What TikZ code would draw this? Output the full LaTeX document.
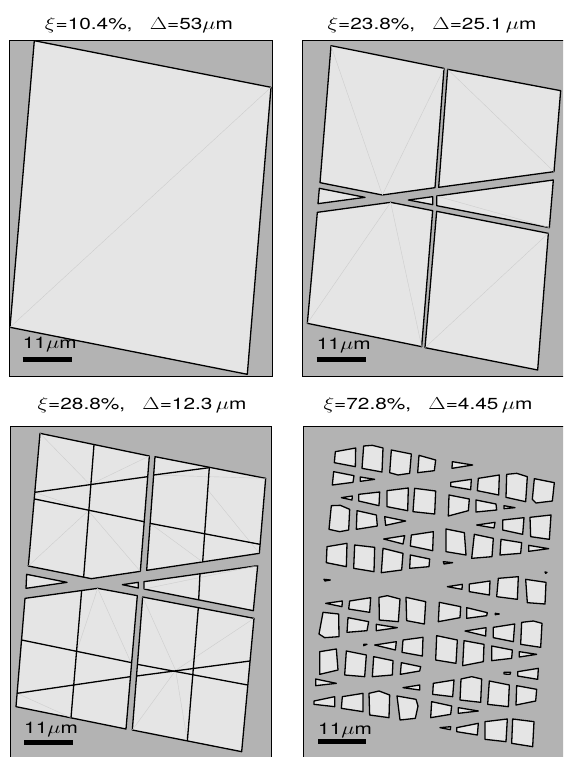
\documentclass[tikz,border=0pt]{standalone}
\usepackage{fontspec}
\setmainfont{TeX Gyre Heros}
\definecolor{fraggray}{RGB}{229,229,229}
\definecolor{bggray}{RGB}{179,179,179}
\definecolor{seamgray}{RGB}{205,205,205}
\newcommand{\widetxt}[1]{\scalebox{1.3}[1]{#1}}
\tikzset{
  panel/.style={draw=black, line width=0.8pt, fill=bggray},
  frag/.style={draw=black, line width=1.3pt, fill=fraggray, line join=round},
  crack/.style={draw=black, line width=1.3pt},
  seam/.style={draw=seamgray, line width=0.4pt},
  ttl/.style={inner sep=0pt, anchor=base, font=\fontsize{16}{19}\selectfont},
  barlbl/.style={ttl, anchor=base west},
  scalebar/.style={line width=5pt}
}

\begin{document}
\begin{tikzpicture}[x=1pt, y=-1pt]
  \useasboundingbox (0,0) rectangle (563,757);
  \clip (0,0) rectangle (563,757);

  % titles
  \node[ttl] (ttl1) at (139,30) {\widetxt{$\xi$=10.4\%,\ \ \ $\Delta$=53$\mu$m}};
  \node[ttl] (ttl2) at (432,30) {\widetxt{$\xi$=23.8\%,\ \ \ $\Delta$=25.1\,$\mu$m}};
  \node[ttl] (ttl3) at (142,409) {\widetxt{$\xi$=28.8\%,\ \ \ $\Delta$=12.3\,$\mu$m}};
  \node[ttl] (ttl4) at (428,409) {\widetxt{$\xi$=72.8\%,\ \ \ $\Delta$=4.45\,$\mu$m}};

  % panel 1
  \draw[panel] (9.5,40) rectangle (272.5,376);
  \draw[frag] (34.3,40.7) -- (271,87.3) -- (247.3,374.3) -- (10,327.3) -- cycle;
  \draw[seam] (10,327.3) -- (271,87.3);

  % panel 2
  \draw[panel] (302.5,40) rectangle (566,376);
  \begin{scope}[shift={(290,0)}, scale=1/3]
    \draw[frag] (123,137) -- (462,205) -- (435,563) -- (277,585) -- (90,548) -- cycle;
    \draw[frag] (473,208) -- (812,272) -- (792,515) -- (446,562) -- cycle;
    \draw[frag] (88,565) -- (225,592) -- (84,611) -- cycle;
    \draw[frag] (355,600) -- (428,590) -- (428,614) -- cycle;
    \draw[frag] (440,588) -- (790,540) -- (778,683) -- (440,617) -- cycle;
    \draw[frag] (82,637) -- (302,607) -- (428,632) -- (395,1040) -- (52,970) -- cycle;
    \draw[frag] (440,634) -- (775,700) -- (743,1110) -- (405,1043) -- cycle;
    \draw[seam] (123,137) -- (277,585) -- (462,205);
    \draw[seam] (473,208) -- (792,515);
    \draw[seam] (440,588) -- (778,683);
    \draw[seam] (52,970) -- (302,607) -- (395,1040);
    \draw[seam] (775,700) -- (405,1043);
  \end{scope}

  % panel 3
  \draw[panel] (10,426) rectangle (271,762);
  \begin{scope}[shift={(0,380)}, scale=1/3]
    \draw[frag] (120,160) -- (448,228) -- (421,574) -- (274,596) -- (85,558) -- cycle;
    \draw[frag] (465,230) -- (797,295) -- (778,520) -- (440,571) -- cycle;
    \draw[frag] (80,583) -- (201,607) -- (78,625) -- cycle;
    \draw[frag] (367,614) -- (415,607) -- (415,624) -- cycle;
    \draw[frag] (432,605) -- (773,557) -- (760,692) -- (432,627) -- cycle;
    \draw[frag] (75,655) -- (293,625) -- (412,647) -- (378,1047) -- (48,980) -- cycle;
    \draw[frag] (428,651) -- (762,715) -- (725,1115) -- (397,1050) -- cycle;
    \draw[seam] (120,160) -- (270,314) -- (448,228);
    \draw[seam] (104,337) -- (265,392) -- (85,558);
    \draw[seam] (265,392) -- (421,574);
    \draw[seam] (461,285) -- (797,295);
    \draw[seam] (622,328) -- (778,520);
    \draw[seam] (450,430) -- (608,546);
    \draw[seam] (432,627) -- (773,557);
    \draw[seam] (229,818) -- (293,625) -- (393,848);
    \draw[seam] (51,940) -- (213,1013);
    \draw[seam] (397,1050) -- (527,871) -- (562,1083);
    \draw[seam] (428,651) -- (527,871) -- (762,715);
    % cracks
    \draw[crack] (282,194) -- (251,591);
    \draw[crack] (104,337) -- (443,290);
    \draw[crack] (104,357) -- (432,425);
    \draw[crack] (461,285) -- (628,263);
    \draw[crack] (450,430) -- (780,493);
    \draw[crack] (628,262) -- (608,546);
    \draw[crack] (600,581) -- (596,660);
    \draw[crack] (245,631) -- (213,1013);
    \draw[crack] (65,780) -- (395,848);
    \draw[crack] (51,940) -- (391,890);
    \draw[crack] (595,683) -- (562,1083);
    \draw[crack] (412,853) -- (743,915);
    \draw[crack] (410,888) -- (750,843);
  \end{scope}

  % panel 4
  \draw[panel] (303.5,426) rectangle (566,762);
  \begin{scope}[shift={(290,380)}, scale=1/3]
    % row 1
    \draw[frag] (136,215) -- (197,204) -- (196,260) -- (133,248) -- cycle;
    \draw[frag] (221,198) -- (247,196) -- (279,204) -- (276,276) -- (216,265) -- cycle;
    \draw[frag] (304,210) -- (364,222) -- (359,280) -- (324,285) -- (299,278) -- cycle;
    \draw[frag] (387,226) -- (437,240) -- (433,272) -- (383,278) -- cycle;
    \draw[frag] (487,245) -- (548,255) -- (486,265) -- cycle;
    % row 2
    \draw[frag] (131,275) -- (192,287) -- (189,307) -- (127,315) -- cycle;
    \draw[frag] (211,291) -- (254,298) -- (211,304) -- cycle;
    \draw[frag] (482,307) -- (544,298) -- (542,329) -- (482,319) -- cycle;
    \draw[frag] (565,295) -- (628,285) -- (626,345) -- (562,332) -- cycle;
    \draw[frag] (650,283) -- (680,280) -- (712,290) -- (707,365) -- (648,352) -- cycle;
    \draw[frag] (733,296) -- (793,308) -- (787,363) -- (738,369) -- (727,358) -- cycle;
    % row 3
    \draw[frag] (154,353) -- (187,348) -- (186,360) -- cycle;
    \draw[frag] (206,343) -- (269,336) -- (267,377) -- (206,363) -- cycle;
    \draw[frag] (291,332) -- (355,324) -- (353,392) -- (291,380) -- cycle;
    \draw[frag] (374,325) -- (437,333) -- (434,402) -- (369,395) -- cycle;
    \draw[frag] (477,345) -- (538,357) -- (535,392) -- (475,408) -- cycle;
    \draw[frag] (558,360) -- (618,372) -- (620,390) -- (558,396) -- cycle;
    \draw[frag] (642,377) -- (675,383) -- (642,386) -- cycle;
    % row 4
    \draw[frag] (124,377) -- (151,376) -- (179,388) -- (176,450) -- (149,455) -- (117,448) -- cycle;
    \draw[frag] (201,392) -- (259,405) -- (262,438) -- (199,448) -- cycle;
    \draw[frag] (284,410) -- (347,423) -- (287,436) -- cycle;
    \draw[frag] (560,435) -- (615,427) -- (612,444) -- cycle;
    \draw[frag] (638,420) -- (702,413) -- (698,463) -- (638,450) -- cycle;
    \draw[frag] (720,412) -- (783,405) -- (778,478) -- (722,470) -- cycle;
    % row 5
    \draw[frag] (281,477) -- (344,467) -- (339,492) -- cycle;
    \draw[frag] (364,465) -- (430,455) -- (428,512) -- (361,498) -- cycle;
    \draw[frag] (468,447) -- (523,458) -- (528,525) -- (468,515) -- cycle;
    \draw[frag] (553,463) -- (610,475) -- (606,530) -- (545,535) -- cycle;
    \draw[frag] (633,478) -- (695,488) -- (692,520) -- (630,525) -- cycle;
    \draw[frag] (716,496) -- (776,506) -- (716,514) -- cycle;
    % row 6
    \draw[frag] (111,500) -- (171,490) -- (169,560) -- (109,548) -- cycle;
    \draw[frag] (194,495) -- (254,502) -- (252,575) -- (191,565) -- cycle;
    \draw[frag] (279,505) -- (339,520) -- (335,570) -- (274,578) -- cycle;
    \draw[frag] (361,525) -- (419,537) -- (417,560) -- (359,565) -- cycle;
    \draw[frag] (102,598) -- (121,600) -- (105,603) -- cycle;
    \draw[frag] (460,545) -- (488,548) -- (462,552) -- cycle;
    \draw[frag] (765,576) -- (771,577) -- (767,580) -- cycle;
    % row 7
    \draw[frag] (472,620) -- (517,613) -- (516,628) -- cycle;
    \draw[frag] (538,612) -- (600,603) -- (598,645) -- (538,635) -- cycle;
    \draw[frag] (625,595) -- (685,590) -- (682,658) -- (620,650) -- cycle;
    \draw[frag] (707,598) -- (768,607) -- (765,672) -- (712,668) -- cycle;
    \draw[frag] (107,670) -- (157,663) -- (156,680) -- cycle;
    \draw[frag] (179,663) -- (242,653) -- (239,697) -- (176,687) -- cycle;
    \draw[frag] (267,652) -- (292,647) -- (330,657) -- (325,725) -- (268,720) -- cycle;
    \draw[frag] (348,652) -- (407,665) -- (403,732) -- (350,722) -- cycle;
    \draw[frag] (448,667) -- (512,680) -- (510,713) -- (445,725) -- cycle;
    \draw[frag] (530,683) -- (592,698) -- (590,707) -- (530,715) -- cycle;
    \draw[frag] (616,700) -- (628,702) -- (616,704) -- cycle;
    % row 8
    \draw[frag] (99,697) -- (146,702) -- (147,770) -- (104,773) -- (87,762) -- cycle;
    \draw[frag] (174,713) -- (236,725) -- (231,752) -- (171,757) -- cycle;
    \draw[frag] (259,733) -- (322,743) -- (259,752) -- cycle;
    \draw[frag] (525,753) -- (588,743) -- (587,768) -- cycle;
    \draw[frag] (610,742) -- (674,732) -- (670,785) -- (610,773) -- cycle;
    \draw[frag] (695,727) -- (730,723) -- (756,730) -- (752,802) -- (692,793) -- cycle;
    % row 9
    \draw[frag] (221,793) -- (231,793) -- (221,797) -- cycle;
    \draw[frag] (254,795) -- (319,785) -- (316,810) -- cycle;
    \draw[frag] (339,780) -- (399,772) -- (397,828) -- (336,817) -- cycle;
    \draw[frag] (440,767) -- (502,780) -- (498,850) -- (437,840) -- cycle;
    \draw[frag] (522,782) -- (582,793) -- (580,845) -- (518,857) -- cycle;
    \draw[frag] (605,798) -- (667,810) -- (665,835) -- (605,842) -- cycle;
    \draw[frag] (688,815) -- (740,823) -- (688,831) -- cycle;
    % row 10
    \draw[frag] (89,815) -- (139,807) -- (144,870) -- (89,883) -- cycle;
    \draw[frag] (169,813) -- (229,825) -- (224,890) -- (164,885) -- cycle;
    \draw[frag] (251,830) -- (309,842) -- (307,885) -- (247,890) -- cycle;
    \draw[frag] (334,848) -- (392,860) -- (389,873) -- (331,883) -- cycle;
    \draw[frag] (642,877) -- (662,877) -- (660,883) -- (642,882) -- cycle;
    \draw[frag] (683,875) -- (745,865) -- (743,898) -- (683,888) -- cycle;
    % row 11
    \draw[frag] (77,897) -- (139,910) -- (77,917) -- cycle;
    \draw[frag] (339,923) -- (389,915) -- (389,930) -- cycle;
    \draw[frag] (430,910) -- (492,900) -- (488,950) -- (428,943) -- cycle;
    \draw[frag] (513,897) -- (545,890) -- (575,897) -- (572,967) -- (510,960) -- cycle;
    \draw[frag] (598,903) -- (658,915) -- (655,980) -- (593,973) -- cycle;
    \draw[frag] (680,917) -- (740,928) -- (737,963) -- (678,975) -- cycle;
    % row 12
    \draw[frag] (72,963) -- (134,950) -- (134,980) -- (72,973) -- cycle;
    \draw[frag] (157,950) -- (219,940) -- (219,995) -- (154,985) -- cycle;
    \draw[frag] (237,940) -- (267,933) -- (299,945) -- (297,1013) -- (239,1005) -- cycle;
    \draw[frag] (321,948) -- (378,958) -- (384,978) -- (376,1015) -- (330,1020) -- cycle;
    \draw[frag] (425,965) -- (485,978) -- (482,1003) -- (422,1013) -- cycle;
    \draw[frag] (505,983) -- (565,993) -- (505,1000) -- cycle;
    % row 13
    \draw[frag] (450,1043) -- (482,1040) -- (481,1049) -- cycle;
    \draw[frag] (500,1043) -- (565,1030) -- (562,1065) -- (500,1055) -- cycle;
    \draw[frag] (585,1025) -- (652,1017) -- (648,1085) -- (585,1078) -- cycle;
    \draw[frag] (668,1017) -- (732,1025) -- (728,1100) -- (665,1090) -- cycle;
  \end{scope}

  % scale bars
  \node[barlbl] (lbl1) at (22.7,348) {\widetxt{11$\mu$m}};
  \draw[scalebar] (22.7,359) -- (71.7,359);
  \node[barlbl] (lbl2) at (316.7,349) {\widetxt{11$\mu$m}};
  \draw[scalebar] (316.7,359.5) -- (366,359.5);
  \node[barlbl] (lbl3) at (24,733) {\widetxt{11$\mu$m}};
  \draw[scalebar] (24,742) -- (72.7,742);
  \node[barlbl] (lbl4) at (318,734) {\widetxt{11$\mu$m}};
  \draw[scalebar] (318,741.7) -- (366.3,741.7);
\end{tikzpicture}
\end{document}
